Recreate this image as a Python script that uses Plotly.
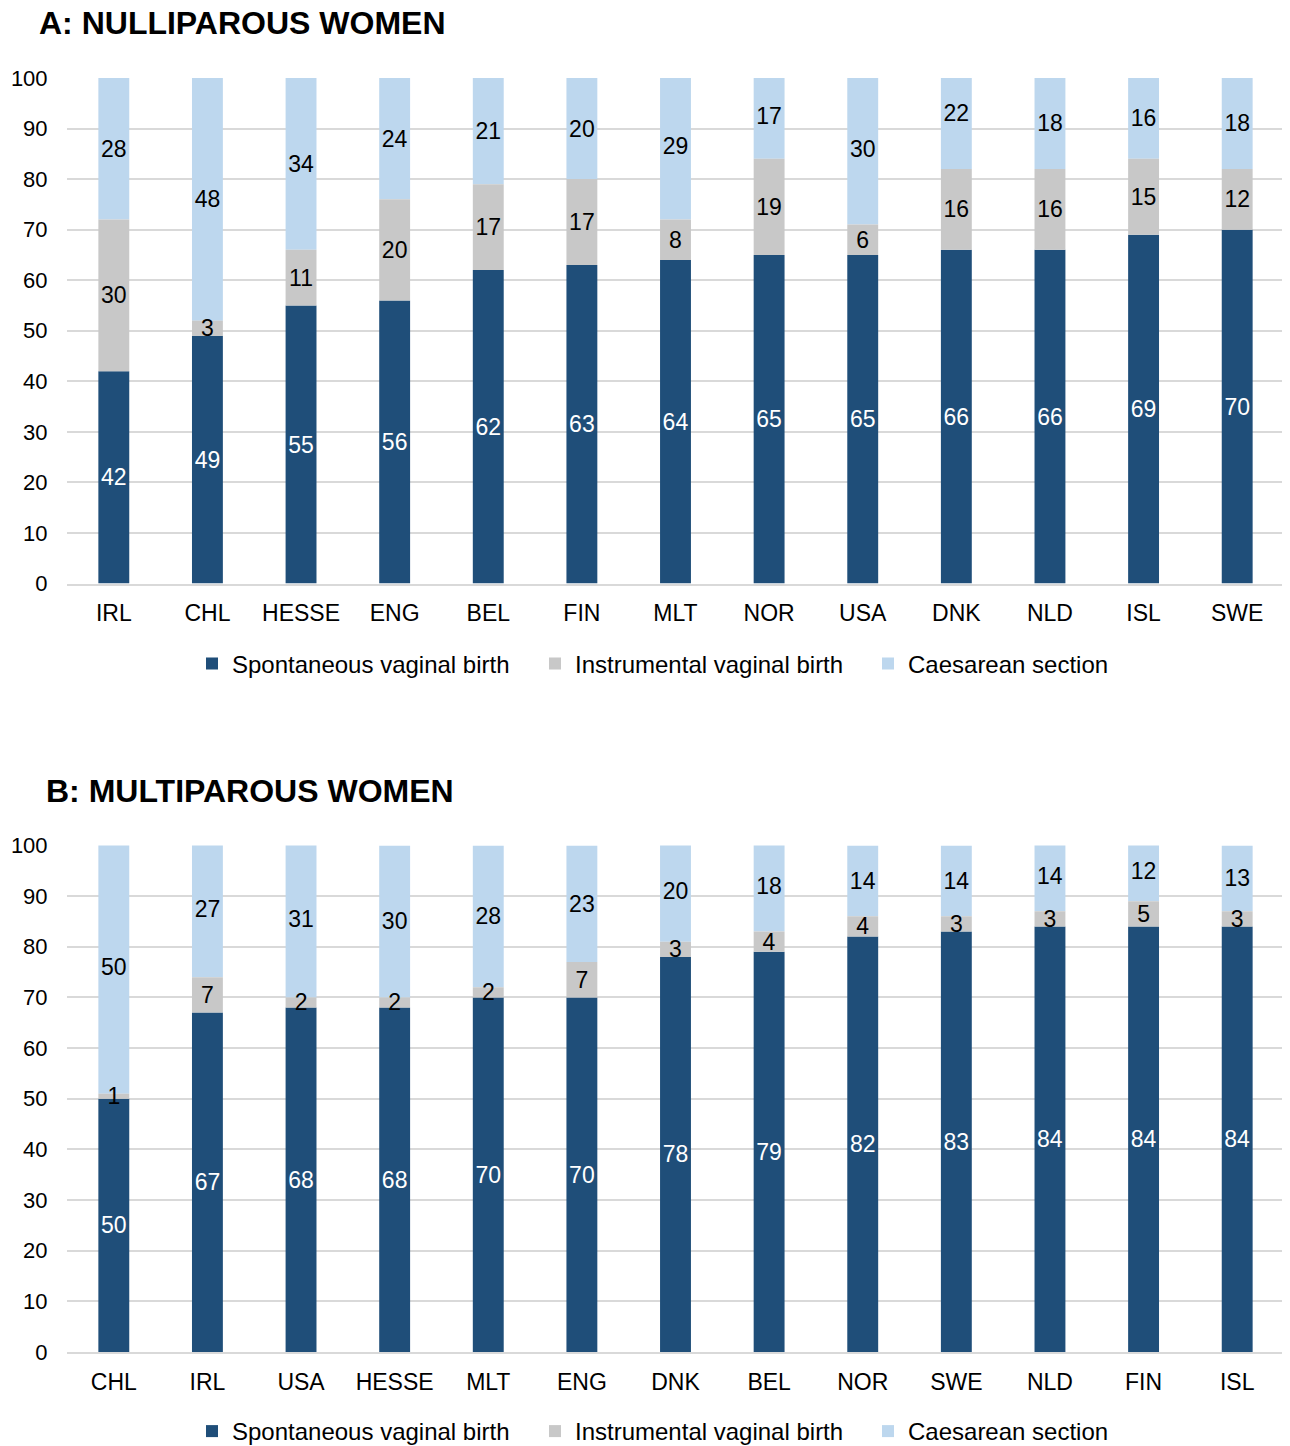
import plotly.graph_objects as go

# ---- Data ----
cats_a = ["IRL", "CHL", "HESSE", "ENG", "BEL", "FIN", "MLT", "NOR", "USA", "DNK", "NLD", "ISL", "SWE"]
spont_a = [42, 49, 55, 56, 62, 63, 64, 65, 65, 66, 66, 69, 70]
instr_a = [30, 3, 11, 20, 17, 17, 8, 19, 6, 16, 16, 15, 12]
caes_a = [28, 48, 34, 24, 21, 20, 29, 17, 30, 22, 18, 16, 18]

cats_b = ["CHL", "IRL", "USA", "HESSE", "MLT", "ENG", "DNK", "BEL", "NOR", "SWE", "NLD", "FIN", "ISL"]
spont_b = [50, 67, 68, 68, 70, 70, 78, 79, 82, 83, 84, 84, 84]
instr_b = [1, 7, 2, 2, 2, 7, 3, 4, 4, 3, 3, 5, 3]
caes_b = [50, 27, 31, 30, 28, 23, 20, 18, 14, 14, 14, 12, 13]

series_names = ["Spontaneous vaginal birth", "Instrumental vaginal birth", "Caesarean section"]
colors = ["#1F4E79", "#C8C8C8", "#BDD7EE"]
text_colors = ["#FFFFFF", "#000000", "#000000"]
legend_widths = [298, 288, 200]

FONT = "Liberation Sans, Arial, sans-serif"
W, H = 1290, 1446
OFF = 8  # page body margin

fig = go.Figure()


def add_panel(cats, spont, instr, caes, xaxis, yaxis, legend):
    base_sp = [0] * len(cats)
    base_in = list(spont)
    base_ca = [s + i for s, i in zip(spont, instr)]
    # draw order: caesarean, spontaneous, instrumental (so small labels stay on top)
    specs = [
        (2, caes, base_ca),
        (0, spont, base_sp),
        (1, instr, base_in),
    ]
    for idx, vals, base in specs:
        fig.add_trace(go.Bar(
            x=cats, y=vals, base=base, name=series_names[idx], legendrank=idx + 1,
            legendwidth=legend_widths[idx],
            marker=dict(color=colors[idx], line=dict(width=0)),
            xaxis=xaxis, yaxis=yaxis, legend=legend,
            text=[str(v) for v in vals], texttemplate="%{text}",
            textposition="inside", insidetextanchor="middle",
            textangle=0, constraintext="none",
            textfont=dict(family=FONT, size=23, color=text_colors[idx]),
            hoverinfo="skip",
        ))


add_panel(cats_a, spont_a, instr_a, caes_a, "x", "y", "legend")
add_panel(cats_b, spont_b, instr_b, caes_b, "x2", "y2", "legend2")


def px(p):
    return (p - OFF) / W


def py(p):
    return 1 - (p - OFF) / H


xdom = [px(67), px(1284)]

xcommon = dict(domain=xdom, showgrid=False, showline=True, linecolor="#D9D9D9", linewidth=2,
               ticks="outside", ticklen=8, tickcolor="rgba(0,0,0,0)",
               tickfont=dict(family=FONT, size=23, color="#000000"),
               automargin=False, fixedrange=True)
ycommon = dict(range=[0, 100], dtick=10, showgrid=True, gridcolor="#D9D9D9", gridwidth=2,
               zeroline=False, showline=False, ticks="outside", ticklen=14,
               tickcolor="rgba(0,0,0,0)",
               tickfont=dict(family=FONT, size=22, color="#000000"),
               automargin=False, fixedrange=True)

legend_common = dict(orientation="h", xanchor="left", yanchor="middle", traceorder="normal",
                     font=dict(family=FONT, size=24, color="#000000"),
                     bgcolor="rgba(0,0,0,0)", borderwidth=0)

fig.update_layout(
    width=W, height=H,
    margin=dict(l=0, r=0, t=0, b=0),
    paper_bgcolor="white", plot_bgcolor="white",
    barmode="overlay", bargap=0.67,
    font=dict(family=FONT, size=20, color="#000000"),
    xaxis=dict(anchor="y", **xcommon),
    yaxis=dict(domain=[py(584), py(78)], anchor="x", **ycommon),
    xaxis2=dict(anchor="y2", **xcommon),
    yaxis2=dict(domain=[py(1353), py(846)], anchor="x2", **ycommon),
    legend=dict(x=px(192), y=py(664), **legend_common),
    legend2=dict(x=px(192), y=py(1432), **legend_common),
    annotations=[
        dict(text="<b>A: NULLIPAROUS WOMEN</b>", x=px(37), y=py(23), xref="paper", yref="paper",
             xanchor="left", yanchor="middle", showarrow=False,
             font=dict(family=FONT, size=32, color="#000000")),
        dict(text="<b>B: MULTIPAROUS WOMEN</b>", x=px(44), y=py(792), xref="paper", yref="paper",
             xanchor="left", yanchor="middle", showarrow=False,
             font=dict(family=FONT, size=32, color="#000000")),
    ],
)

fig.write_html("out.html")
